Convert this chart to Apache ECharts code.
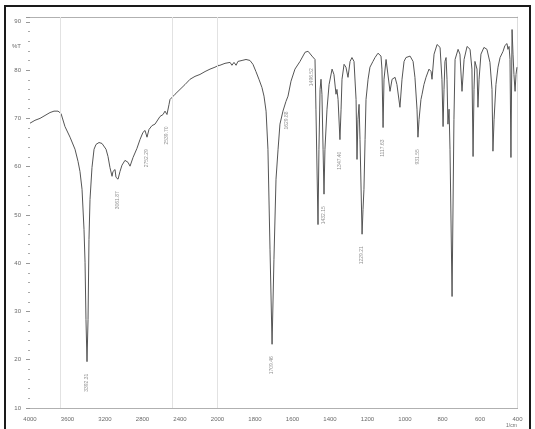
<!DOCTYPE html>
<html><head><meta charset="utf-8">
<script src="https://cdn.jsdelivr.net/npm/echarts@6/dist/echarts.min.js"></script>
<style>html,body{margin:0;padding:0;background:#fff}#c{width:535px;height:429px}</style>
</head><body><div id="c"></div>
<script>
// Wavenumber (cm-1), descending
const wavenumbers = [4000,3947,3893,3840,3787,3744,3701,3669,3627,3573,3520,3488,3467,3445,3424,3413,3403,3392,3381,3371,3360,3339,3317,3296,3264,3232,3189,3168,3147,3125,3115,3093,3083,3061,3040,3019,2987,2955,2933,2901,2859,2827,2795,2773,2752,2731,2699,2667,2613,2581,2560,2539,2517,2507,2453,2400,2347,2293,2240,2187,2133,2080,2027,
1987,1960,1933,1923,1912,1901,1891,1869,1848,1827,1811,1795,1779,1763,1752,1741,1731,1720,1709,1699,1688,1677,1667,1651,1635,1624,1608,1587,1560,1533,1517,1507,1496,1491,1480,1475,1464,1459,1453,1448,1443,1437,1432,1427,1416,1405,1389,1379,1368,1363,1357,1347,1341,1336,1325,1315,1304,1293,1283,1272,1261,1256,1251,1245,1240,1229,1224,1219,1213,1208,1197,1187,1171,1160,1144,1128,1123,1117,1112,1101,1091,1080,1069,1053,1043,1027,1016,1005,995,973,957,947,936,931,925,915,909,899,888,883,872,861,856,845,829,813,803,797,792,787,781,776,771,765,760,749,739,733,717,707,696,685,669,653,643,637,632,627,616,611,605,595,579,563,547,536,531,525,515,504,493,477,467,456,451,445,440,435,429,424,419,413,408,403];
// Transmittance (%T)
const transmittance = [69.0,69.6,70.0,70.6,71.2,71.5,71.5,71.0,68.3,66.1,63.6,61.1,59.0,55.3,47.0,40.2,28.3,19.6,28.3,44.9,53.2,59.8,63.6,64.6,65.0,64.8,63.6,62.1,59.8,58.0,59.0,59.4,57.8,57.4,59.0,60.3,61.3,60.9,60.1,61.9,63.8,65.6,67.1,67.5,66.1,67.7,68.5,68.8,70.4,70.8,71.5,70.8,72.9,73.9,75.0,76.0,77.0,78.1,78.7,79.1,79.7,80.2,80.6,
81.0,81.4,81.6,81.0,81.6,81.0,81.8,82.0,82.2,82.0,81.2,79.7,78.1,76.4,74.6,71.5,63.6,42.9,23.2,40.8,57.4,63.6,68.8,71.5,73.5,74.6,77.7,80.2,81.8,83.7,83.9,83.7,82.9,83.3,82.2,71.9,48.0,63.6,76.0,78.1,75.0,63.6,54.3,63.6,71.9,77.0,80.2,79.1,75.0,76.0,73.9,65.6,71.9,78.1,81.2,80.6,78.5,81.8,82.6,81.8,73.9,61.5,69.8,72.9,65.6,46.0,51.1,55.3,65.6,73.9,78.1,80.6,81.8,82.6,83.5,82.9,80.2,68.1,78.1,82.2,81.8,75.6,78.1,78.5,77.0,72.3,78.1,81.8,82.6,82.9,81.8,78.5,71.9,66.1,69.8,73.9,75.0,77.0,78.5,78.1,80.2,79.7,78.1,83.3,85.3,84.7,78.1,68.3,76.0,81.8,82.6,78.1,68.8,71.9,63.6,33.1,69.8,82.2,84.3,83.3,75.6,82.2,84.9,84.3,80.2,62.1,76.0,81.8,80.2,72.3,78.1,83.3,84.7,84.3,81.6,76.0,63.2,69.8,77.0,80.6,82.6,83.9,85.1,85.5,84.3,84.9,82.2,61.9,88.4,83.3,79.1,75.6,79.1,80.6];
// Peak annotations
const peakWavenumbers = [3392,3061,2752,2539,1709,1629,1496,1432,1347,1229,1117,931];
const peakTransmittance = [19.6,57.4,66.1,70.8,23.2,73.9,82.9,54.3,65.6,46.0,68.1,66.1];
const peakLabels = ['3392.31','3061.87','2752.29','2539.70','1709.46','1629.88','1496.52','1432.15','1347.40','1229.21','1117.63','931.55'];
// Axis ticks
const xTicksHigh = [4000,3600,3200,2800,2400,2000];
const xTicksLow = [2000,1800,1600,1400,1200,1000,800,600,400];
const yTicks = [10,20,30,40,50,60,70,80,90];
const yMax = 91;
const faintLines = [3680,2485,2000];

const pts = wavenumbers.map((w,i)=>[w,transmittance[i]]);
const splitIdx = wavenumbers.findIndex(w=>w<2000);
const highPts = pts.slice(0, splitIdx+1);
const lowPts = pts.slice(splitIdx-1);
const peaksHigh = [], peaksLow = [];
peakWavenumbers.forEach((w,i)=>{
  const d = {value:[w,peakTransmittance[i]], name:peakLabels[i]};
  (w>=2000?peaksHigh:peaksLow).push(d);
});

const FONT = 'Liberation Sans';
const txtColor = '#6a6a6a';
const gridTop = 17, gridBottom = 21;
const xLeft = 30, xSplit = 217.5, xRight = 517.5;

function xAxisBase(grid, ticks, pos, showLabels, hide2000){
  return {
    type:'value', gridIndex:grid, position:pos, inverse:true,
    min:Math.min(...ticks), max:Math.max(...ticks), interval:ticks[0]-ticks[1],
    axisLine:{show:true, lineStyle:{color:'#a8a8a8', type:'dotted', width:1}},
    axisTick:{show:false},
    splitLine:{show:false},
    axisLabel:{show:showLabels, margin:8, fontSize:6, color:txtColor, fontFamily:FONT,
      formatter: v => (hide2000 && v===2000) ? '' : String(v)}
  };
}
const labelStyle = {
  show:true, formatter:p=>p.name, position:'bottom', distance:12, rotate:90,
  align:'right', verticalAlign:'middle', fontSize:5, color:'#777', fontFamily:FONT
};

const chart = echarts.init(document.getElementById('c'), null, {renderer:'canvas'});
chart.setOption({
  animation:false,
  backgroundColor:'#ffffff',
  grid:[
    {left:xLeft, width:xSplit-xLeft, top:gridTop, bottom:gridBottom},
    {left:xSplit, width:xRight-xSplit, top:gridTop, bottom:gridBottom}
  ],
  xAxis:[
    xAxisBase(0, xTicksHigh, 'bottom', true, true),
    xAxisBase(1, xTicksLow, 'bottom', true, false),
    xAxisBase(0, xTicksHigh, 'top', false, false),
    xAxisBase(1, xTicksLow, 'top', false, false)
  ],
  yAxis:[
    {type:'value', gridIndex:0, min:yTicks[0], max:yMax, interval:yTicks[1]-yTicks[0],
      axisLine:{show:false},
      axisTick:{show:true, length:4, lineStyle:{color:'#999'}},
      minorTick:{show:true, splitNumber:5, length:2, lineStyle:{color:'#aaa'}},
      splitLine:{show:false},
      axisLabel:{margin:9, fontSize:6, color:txtColor, fontFamily:FONT,
        formatter:v=> yTicks.includes(v) ? String(v) : ''}},
    {type:'value', gridIndex:1, position:'right', min:yTicks[0], max:yMax,
      axisLine:{show:true, lineStyle:{color:'#dcdcdc', width:1}},
      axisTick:{show:false}, axisLabel:{show:false}, splitLine:{show:false}}
  ],
  series:[
    {type:'line', xAxisIndex:0, yAxisIndex:0, data:highPts, symbol:'none',
      lineStyle:{color:'#555', width:1}, clip:true,
      markLine:{silent:true, symbol:'none', label:{show:false},
        lineStyle:{color:'#e2e2e2', width:1, type:'solid'},
        data:faintLines.map(v=>({xAxis:v}))}},
    {type:'line', xAxisIndex:1, yAxisIndex:1, data:lowPts, symbol:'none',
      lineStyle:{color:'#555', width:1}, clip:true},
    {type:'scatter', xAxisIndex:0, yAxisIndex:0, data:peaksHigh, symbolSize:0, label:labelStyle},
    {type:'scatter', xAxisIndex:1, yAxisIndex:1, data:peaksLow, symbolSize:0, label:labelStyle}
  ],
  graphic:[
    {type:'rect', shape:{x:5, y:6, width:525, height:440}, style:{fill:'none', stroke:'#1a1a1a', lineWidth:2}, silent:true},
    {type:'text', left:12, top:43, style:{text:'%T', fontSize:6, fill:txtColor, fontFamily:FONT}},
    {type:'text', left:506, top:423, style:{text:'1/cm', fontSize:5, fill:txtColor, fontFamily:FONT}}
  ]
});
</script></body></html>
